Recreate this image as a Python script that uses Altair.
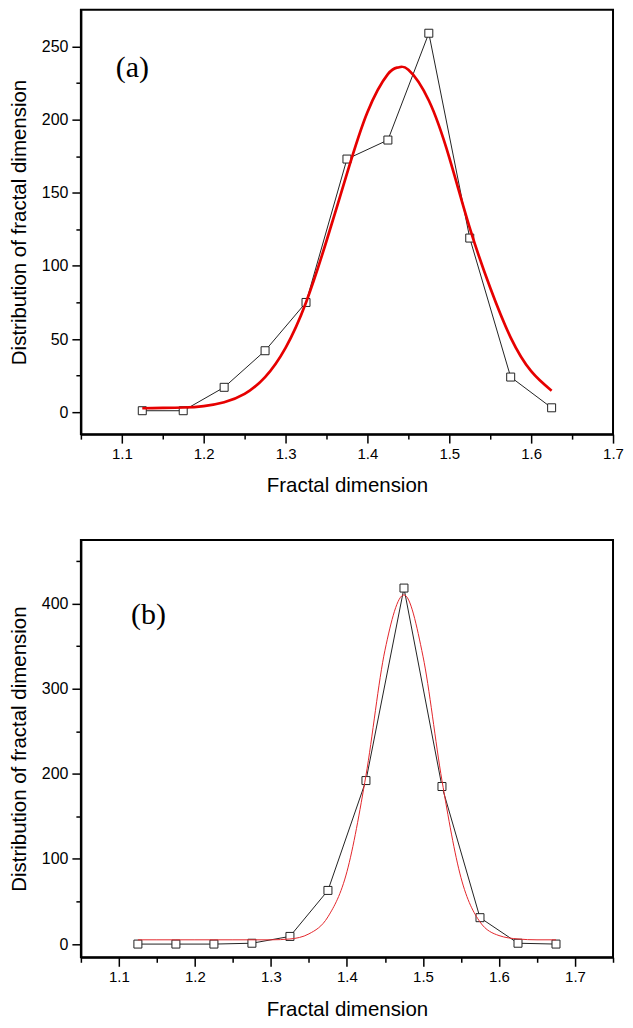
import altair as alt
import pandas as pd

# ---- Panel (a) data ----
a_x = [1.125, 1.175, 1.225, 1.275, 1.325, 1.375, 1.425, 1.475, 1.525, 1.575, 1.625]
a_y = [1, 1, 17, 42, 75, 173, 186, 259, 119, 24, 3]
a_fit_x = [1.125, 1.15, 1.175, 1.2, 1.225, 1.25, 1.275, 1.3, 1.325, 1.35, 1.375,
           1.4, 1.425, 1.4375, 1.45, 1.475, 1.5, 1.525, 1.55, 1.575, 1.6, 1.625]
a_fit_y = [2.7, 2.9, 3.2, 4.2, 6.8, 12.5, 24, 44, 75, 117, 163,
           205, 231, 235.6, 234, 213, 174, 126, 85, 51, 28, 14.7]

# ---- Panel (b) data ----
b_x = [1.125, 1.175, 1.225, 1.275, 1.325, 1.375, 1.425, 1.475, 1.525, 1.575, 1.625, 1.675]
b_y = [0, 0, 0, 1, 9, 63, 192, 418, 185, 31, 1, 0]
b_fit_x = [1.125, 1.15, 1.175, 1.2, 1.225, 1.25, 1.275, 1.3, 1.325, 1.35, 1.375, 1.4,
           1.425, 1.45, 1.475, 1.5, 1.525, 1.55, 1.575, 1.6, 1.625, 1.65, 1.675]
b_fit_y = [5, 5, 5, 5, 5, 5, 5, 5, 6, 12, 32, 85,
           198, 345, 410, 338, 192, 78, 26, 10, 6, 5, 5]

# ---- tick values ----
a_xticks = [1.05, 1.1, 1.15, 1.2, 1.25, 1.3, 1.35, 1.4, 1.45, 1.5, 1.55, 1.6, 1.65, 1.7]
a_yticks = [0, 25, 50, 75, 100, 125, 150, 175, 200, 225, 250]
b_xticks = [1.05, 1.1, 1.15, 1.2, 1.25, 1.3, 1.35, 1.4, 1.45, 1.5, 1.55, 1.6, 1.65, 1.7, 1.75]
b_yticks = [0, 50, 100, 150, 200, 250, 300, 350, 400, 450]

# panel labels (positions in data coordinates)
a_label = {"x": [1.113], "y": [235], "t": ["(a)"]}
b_label = {"x": [1.139], "y": [386], "t": ["(b)"]}

FONT = "Liberation Sans"


def panel(px, py, fx, fy, lab, xdom, ydom, xticks, yticks, ymajor, red, red_w,
          interp, w, h, xtpad, tol):
    pts = pd.DataFrame({"x": px, "y": py})
    fit = pd.DataFrame({"x": fx, "y": fy})
    ldf = pd.DataFrame(lab)
    xs = alt.Scale(domain=xdom, nice=False, zero=False)
    ys = alt.Scale(domain=ydom, nice=False, zero=False)
    xmaj = f"abs(datum.value*10 - round(datum.value*10)) < {tol}"
    ymaj = f"abs(datum.value/{ymajor} - round(datum.value/{ymajor})) < {tol}"
    xax = alt.Axis(
        values=xticks, title="Fractal dimension", grid=False,
        labelExpr=f"({xmaj}) ? format(datum.value, '.1f') : ''",
        tickSize={"condition": {"test": xmaj, "value": 9}, "value": 5},
        labelPadding=3, titlePadding=xtpad, labelFlush=False, labelOverlap=False,
        labelFontSize=15, labelFont=FONT, labelColor="black",
    )
    yax = alt.Axis(
        values=yticks, title="Distribution of fractal dimension", grid=False,
        labelExpr=f"({ymaj}) ? format(datum.value, 'd') : ''",
        tickSize={"condition": {"test": ymaj, "value": 9}, "value": 5},
        labelPadding=4, titlePadding=12, labelOverlap=False, labelFontSize=16,
        labelFont=FONT, labelColor="black",
    )
    x = alt.X("x:Q", scale=xs, axis=xax)
    y = alt.Y("y:Q", scale=ys, axis=yax)
    line = alt.Chart(pts).mark_line(color="#222222", strokeWidth=1).encode(x=x, y=y)
    sq = alt.Chart(pts).mark_point(shape="square", size=64, filled=True, fill="white",
                                   stroke="#222222", strokeWidth=1, opacity=1).encode(x=x, y=y)
    red_line = alt.Chart(fit).mark_line(color=red, strokeWidth=red_w,
                                        interpolate=interp).encode(x=x, y=y)
    txt = alt.Chart(ldf).mark_text(font="Liberation Serif", fontSize=30, color="black",
                                   align="center", baseline="middle").encode(
        x=x, y=y, text="t:N")
    return alt.layer(line, sq, red_line, txt).properties(width=w, height=h)


pa = panel(a_x, a_y, a_fit_x, a_fit_y, a_label, [1.05, 1.7], [-15, 275],
           a_xticks, a_yticks, 50, "#e60000", 2.7, "natural", 533, 425, 14, 0.01)
pb = panel(b_x, b_y, b_fit_x, b_fit_y, b_label, [1.05, 1.75], [-15.5, 474.5],
           b_xticks, b_yticks, 100, "#e3262b", 1, "monotone", 533, 418, 15, 0.02)

chart = alt.vconcat(pa, pb, spacing=42).properties(
    padding={"left": 0, "top": 0, "right": 0, "bottom": 0}
).configure_view(
    stroke="black", strokeWidth=2
).configure_axis(
    titleFont=FONT, titleFontSize=20.5, titleFontWeight="normal", titleColor="black",
    tickColor="black", tickWidth=1.5, domainColor="black", domainWidth=2,
)

chart.save("out.html", embed_options={"renderer": "svg", "actions": False})
